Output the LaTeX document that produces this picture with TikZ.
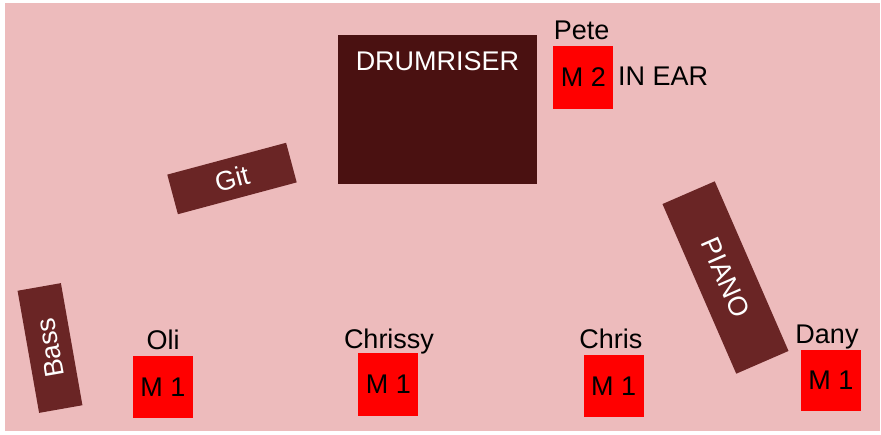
\documentclass[tikz,border=0pt]{standalone}
\usepackage{fontspec}
\setmainfont{Liberation Sans}
\definecolor{stagepink}{RGB}{237,187,188}
\definecolor{boxbrown}{RGB}{106,37,37}
\definecolor{drumbrown}{RGB}{74,17,17}
\definecolor{monred}{RGB}{255,0,0}
\begin{document}
\begin{tikzpicture}[x=1pt,y=-1pt,
  every node/.style={font=\fontsize{27}{32}\selectfont, inner sep=0pt},
  instbox/.style={fill=boxbrown, text=white, draw=none},
  monbox/.style={fill=monred, text=black, minimum width=60pt, minimum height=62pt},
  namelabel/.style={anchor=base, text=black}]
\path[use as bounding box] (0,0) rectangle (881,434);
\fill[stagepink] (5,3) rectangle (880,431);
% drum riser
\node[fill=drumbrown, minimum width=199pt, minimum height=149pt] (drum) at (437.8,109.7) {};
\node[anchor=base, text=white] (drumtxt) at (437.5,70.5) {DRUMRISER};
% instruments
\node[instbox, rotate=15, minimum width=123pt, minimum height=41pt] (git) at (232,178.5) {Git};
\node[instbox, rotate=100, minimum width=124pt, minimum height=44pt] (bass) at (50,348) {Bass};
\node[instbox, rotate=-66.5, minimum width=185pt, minimum height=57pt] (piano) at (725.5,277.5) {PIANO};
% Pete
\node[namelabel] (pete) at (581.7,39.5) {Pete};
\node[monbox, minimum height=63pt] (m2) at (583.3,77.5) {M 2};
\node[anchor=base west, text=black] (inear) at (618,85.5) {IN EAR};
% monitors front
\node[namelabel] (oli) at (163,349) {Oli};
\node[monbox] (m1oli) at (163,387) {M 1};
\node[namelabel] (chrissy) at (389,348) {Chrissy};
\node[monbox, minimum height=63pt] (m1chrissy) at (388.3,384.5) {M 1};
\node[namelabel] (chris) at (610.8,348.5) {Chris};
\node[monbox] (m1chris) at (613.7,386) {M 1};
\node[namelabel] (dany) at (827,343) {Dany};
\node[monbox, minimum height=61pt] (m1dany) at (830.9,380) {M 1};
\end{tikzpicture}
\end{document}
